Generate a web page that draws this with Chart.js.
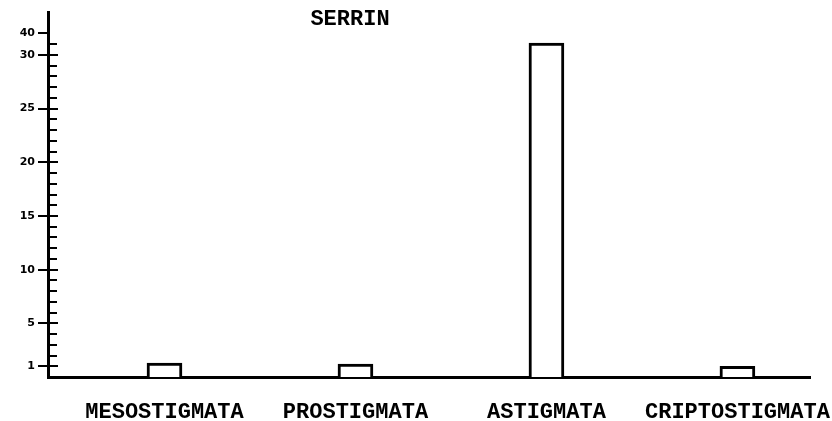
<!DOCTYPE html>
<html lang="es">
<head>
<meta charset="UTF-8">
<title>Serrin</title>
<style>
  body { margin: 0; background: #fff; }
  #wrap { width: 832px; height: 421px; }
</style>
<script src="https://cdn.jsdelivr.net/npm/chart.js"></script>
</head>
<body>
<div id="wrap"><canvas id="chart"></canvas></div>
<script>
const chartTitle = 'SERRIN';
const categories = ['MESOSTIGMATA', 'PROSTIGMATA', 'ASTIGMATA', 'CRIPTOSTIGMATA'];
const counts = [1.3, 1.2, 35.5, 1.0];
const yTickValues = [1, 5, 10, 15, 20, 25, 30, 40];

// the drawn axis squeezes everything above 30 (30 -> 40 takes a fifth of the room)
const BREAK_AT = 30;
const SQUEEZE = 0.2;

class BrokenScale extends Chart.LinearScale {
  static id = 'brokenLinear';
  static defaults = Chart.LinearScale.defaults;
  warp(v) { return v <= BREAK_AT ? v : BREAK_AT + (v - BREAK_AT) * SQUEEZE; }
  unwarp(w) { return w <= BREAK_AT ? w : BREAK_AT + (w - BREAK_AT) / SQUEEZE; }
  getPixelForValue(value) {
    if (value === null || value === undefined) return NaN;
    const lo = this.warp(this.min), hi = this.warp(this.max);
    return this.getPixelForDecimal((this.warp(value) - lo) / (hi - lo));
  }
  getValueForPixel(pixel) {
    const lo = this.warp(this.min), hi = this.warp(this.max);
    return this.unwarp(lo + this.getDecimalForPixel(pixel) * (hi - lo));
  }
}
Chart.register(BrokenScale);

const monoFont = { family: 'Liberation Mono', size: 22, weight: 'bold' };

// small tick marks on the inner side of the y axis, one per unit
const innerTicks = {
  id: 'innerTicks',
  afterDraw(chart) {
    const ys = chart.scales.y;
    const ctx = chart.ctx;
    const x0 = chart.chartArea.left;
    const marks = [];
    for (let v = 1; v <= BREAK_AT; v++) marks.push(v);
    marks.push(35);
    ctx.save();
    ctx.strokeStyle = '#000';
    ctx.lineWidth = 2;
    marks.forEach(v => {
      const y = Math.round(ys.getPixelForValue(v));
      const len = yTickValues.includes(v) ? 10 : 9;
      ctx.beginPath();
      ctx.moveTo(x0, y);
      ctx.lineTo(x0 + len, y);
      ctx.stroke();
    });
    ctx.restore();
  }
};

const titleText = {
  id: 'titleText',
  afterDraw(chart) {
    const ctx = chart.ctx;
    ctx.save();
    ctx.fillStyle = '#000';
    ctx.font = 'bold 22px "Liberation Mono"';
    ctx.textAlign = 'center';
    ctx.textBaseline = 'middle';
    ctx.fillText(chartTitle, 350, 19);
    ctx.restore();
  }
};

new Chart(document.getElementById('chart'), {
  type: 'bar',
  data: {
    datasets: [{
      data: categories.map((c, i) => ({ x: i, y: counts[i] })),
      backgroundColor: '#fff',
      borderColor: '#000',
      borderWidth: 3,
      barThickness: 35
    }]
  },
  options: {
    responsive: true,
    maintainAspectRatio: false,
    animation: false,
    layout: { padding: { top: 12, right: 22, left: 0, bottom: 0 } },
    plugins: {
      legend: { display: false },
      title: { display: false },
      tooltip: { enabled: false }
    },
    scales: {
      x: {
        type: 'linear',
        offset: false,
        min: -0.61,
        max: 3.38,
        afterBuildTicks: s => { s.ticks = categories.map((c, i) => ({ value: i })); },
        afterFit: s => { s.height = 44; s.paddingLeft = 0; s.paddingRight = 0; },
        grid: { display: false, offset: false },
        border: { display: true, color: '#000', width: 3 },
        ticks: {
          autoSkip: false,
          maxRotation: 0,
          padding: 14,
          color: '#000',
          font: monoFont,
          callback: v => categories[v]
        }
      },
      y: {
        type: 'brokenLinear',
        min: 0,
        max: 50,
        afterBuildTicks: s => { s.ticks = yTickValues.map(v => ({ value: v })); },
        afterFit: s => { s.width = 48; },
        grid: { drawOnChartArea: false, drawTicks: true, tickLength: 10, color: '#000', lineWidth: 2 },
        border: { display: true, color: '#000', width: 3 },
        ticks: {
          autoSkip: false,
          padding: 3,
          color: '#000',
          font: { family: 'DejaVu Sans', size: 11, weight: 'bold' },
          callback: v => String(v)
        }
      }
    }
  },
  plugins: [innerTicks, titleText]
});
</script>
</body>
</html>
